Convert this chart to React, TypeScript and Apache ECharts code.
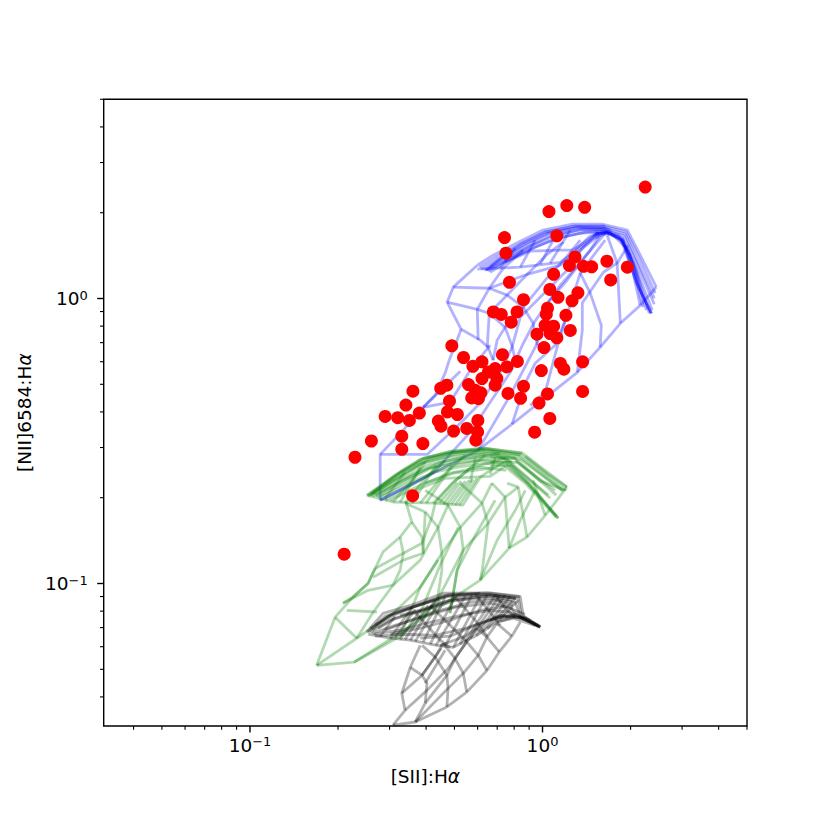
import React, { useEffect, useRef } from "react";
import * as echarts from "echarts";

// All values are log10 of the line ratios: x = [SII]:Ha, y = [NII]6584:Ha
const logSII = [
  .351,.022,.083,.144,-.130,.049,-.125,.111,.092,.140,.168,.220,.290,.233,.038,-.113,.025,.053,.121,.101,-.065,-.168,-.141,-.087,-.107,.017,.013,.080,.038,.009,.095,-.019,.026,.049,.005,
  -.310,-.270,-.238,-.207,-.137,-.086,-.122,-.162,-.185,-.207,-.156,-.162,-.253,-.230,-.211,-.242,-.219,-.065,-.118,-.075,.061,.073,-.004,.137,.137,.017,-.012,.025,-.027,
  -.443,-.348,-.327,-.467,-.318,-.421,-.538,-.495,-.455,-.325,-.291,-.356,-.347,-.304,-.259,-.221,-.222,-.228,-.481,-.585,-.409,-.481,-.641,-.444,-.678,
];
const logNII = [
  .391,.305,.326,.320,.214,.220,.159,.146,.116,.113,.111,.131,.110,.065,.085,.057,.032,.004,.020,-.008,-.004,-.047,-.056,-.047,-.083,-.034,-.055,-.059,-.097,-.094,-.112,-.125,-.123,-.138,-.172,
  -.166,-.207,-.238,-.222,-.197,-.221,-.240,-.246,-.258,-.281,-.281,-.304,-.302,-.322,-.331,-.349,-.351,-.308,-.333,-.350,-.228,-.248,-.253,-.222,-.326,-.335,-.367,-.421,-.469,
  -.325,-.315,-.304,-.374,-.360,-.402,-.414,-.418,-.428,-.398,-.407,-.430,-.448,-.465,-.456,-.428,-.468,-.497,-.483,-.500,-.509,-.529,-.557,-.692,-.897,
];

// Model grids, each line is a flat list of log10 x, log10 y pairs
const blueLines: number[][] = [
  [.389,.040,.334,.152,.290,.240,.204,.261,.102,.261,.002,.240,-.076,.201,-.169,.152,-.223,.117],
  [.385,.019,.327,.149,.286,.233,.208,.254,.108,.254,.009,.233,-.069,.194,-.162,.145,-.216,.110],
  [.382,.001,.320,.141,.283,.226,.208,.247,.115,.247,.019,.226,-.063,.184,-.155,.138,-.210,.103],
  [.382,-.020,.317,.134,.279,.219,.204,.243,.122,.240,.026,.219,-.056,.177,-.148,.131,-.199,.099],
  [.375,-.041,.314,.120,.273,.212,.204,.236,.129,.229,.037,.208,-.049,.170,-.141,.124,-.193,.099],
  [.372,-.052,.320,.057,.276,.201,.221,.233,.173,.219,.105,.170,.061,.170,-.042,.166,-.128,.127],
  [.372,-.052,.334,.029,.293,.170,.238,.226,.180,.229],
  [-.193,.099,-.145,.141,-.076,.191,.009,.233,.112,.254,.214,.254],
  [-.179,.110,-.128,.148,-.059,.191,.019,.229,.122,.250,.221,.247],
  [-.186,.096,-.118,.141,-.042,.184,.037,.219,.136,.243,.231,.243],
  [-.179,.092,-.104,.141,-.025,.180,.054,.212,.146,.233,.238,.236],
  [.112,.170,.163,.219,.214,.236,.259,.222,.300,.152,.344,-.030],
  [.173,.222,.218,.233,.266,.212,.310,.127,.355,-.041],
  [.183,.226,.224,.233,.273,.205,.320,.099,.365,-.052],
  [-.223,.103,-.076,.110,.061,.127,.105,.159,.173,.212,.221,.229,.269,.205,.324,.050,.372,-.052],
  [-.305,.040,-.182,.036,-.052,.085,.061,.117,.129,.170,.190,.219],
  [-.182,.036,-.121,.012,-.066,-.031,-.032,-.087,-.018,-.164],
  [-.326,-.013,-.223,-.038,-.182,-.052,-.128,-.101,-.104,-.167,-.093,-.217],
  [-.278,-.108,-.213,-.146,-.186,-.171,-.169,-.217],
  [-.319,-.217,-.333,-.262,-.367,-.339,-.408,-.382,-.476,-.462,-.555,-.547,-.555,-.708],
  [-.278,-.108,-.326,-.013,-.305,.040,-.223,.117],
  [-.278,-.108,-.319,-.217],
  [-.555,-.708,-.220,-.532,-.104,-.441,.119,-.259,.197,-.171,.266,-.087,.334,-.024,.389,.040],
  [-.555,-.547,-.394,-.547,-.281,-.438,-.213,-.367,-.145,-.262,-.104,-.171,-.076,-.066,.009,.022,.084,.099,.139,.180,.190,.233],
  [-.555,-.708,-.374,-.613,-.316,-.547,-.247,-.469,-.179,-.364,-.110,-.259,-.069,-.164,-.028,-.083,.061,.047,.129,.127,.214,.229],
  [-.220,-.532,-.110,-.339,-.018,-.157,.016,-.016,.084,.064,.163,.170,.197,.222],
  [-.104,-.441,-.083,-.375,-.066,-.311,-.025,-.227,.043,-.164,.078,-.076,.129,.089,.214,.205],
  [-.042,-.375,.009,-.329,.050,-.171,.078,-.076],
  [.119,-.259,.136,-.111,.136,-.016,.208,.092,.255,.124,.293,.187],
  [.197,-.171,.201,-.094,.163,.019,.129,.089],
  [.266,-.087,.255,.124,.221,.222],
  [.334,-.024,.310,.089,.273,.212],
  [-.220,-.146,-.223,-.038,-.182,.036,-.134,.106,-.066,.170],
  [-.189,-.171,-.182,-.052,-.121,.012,-.052,.085,.016,.155,.071,.198],
  [-.169,-.217,-.155,-.146,-.128,-.101,-.066,-.031,.009,.064,.078,.141,.129,.205],
  [-.408,-.382,-.281,-.255],
  [-.408,-.382,-.316,-.364,-.247,-.252,-.179,-.164],
  [-.145,.106,-.093,.177],
  [-.076,.110,-.025,.205],
  [-.008,.120,.047,.225],
  [.026,.124,.095,.240],
];

const greenLines: number[][] = [
  [.083,-.661,-.070,-.542,-.203,-.525,-.316,-.538,-.408,-.561,-.487,-.609,-.601,-.690],
  [.081,-.673,-.076,-.547,-.199,-.532,-.312,-.543,-.405,-.568,-.483,-.610,-.596,-.690],
  [.071,-.676,-.080,-.554,-.196,-.543,-.309,-.554,-.401,-.575,-.480,-.624,-.589,-.690],
  [.047,-.690,-.093,-.561,-.193,-.554,-.305,-.564,-.394,-.585,-.480,-.634,-.582,-.694],
  [.026,-.701,-.124,-.561,-.196,-.564,-.299,-.578,-.384,-.596,-.470,-.645,-.562,-.697],
  [.054,-.771,-.052,-.648,-.121,-.585,-.196,-.578,-.288,-.592,-.374,-.610,-.459,-.662,-.538,-.708],
  [.047,-.768,-.059,-.648,-.128,-.589],
  [-.589,-.687,-.504,-.620,-.418,-.564,-.316,-.536,-.197,-.525,-.070,-.543],
  [-.582,-.683,-.494,-.617,-.405,-.561,-.309,-.540,-.186,-.529,-.076,-.550],
  [-.596,-.694,-.497,-.631,-.412,-.578,-.299,-.547,-.179,-.536,-.090,-.561],
  [-.569,-.694,-.480,-.641,-.391,-.596,-.288,-.568,-.162,-.547,-.104,-.575],
  [-.124,-.575,-.052,-.645,.054,-.771],
  [-.110,-.582,-.042,-.652,.047,-.764],
  [-.093,-.568,-.008,-.641,.078,-.673],
  [-.059,-.554,.019,-.617,.084,-.662],
  [-.582,-.687,-.470,-.610,-.384,-.561,-.299,-.540,-.197,-.529],
  [-.572,-.690,-.452,-.624,-.350,-.575,-.247,-.550,-.145,-.543],
  [-.555,-.697,-.435,-.638,-.333,-.592,-.213,-.568,-.110,-.575],
  [-.521,-.708,-.418,-.655,-.316,-.613,-.213,-.592,-.124,-.603],
  [.067,-.673,-.076,-.564,-.179,-.554],
  [.043,-.673,-.086,-.575,-.179,-.575],
  [.020,-.690,-.104,-.585,-.179,-.589],
  [-.538,-.701,-.470,-.610],
  [-.487,-.715,-.418,-.592],
  [-.446,-.718,-.364,-.585],
  [-.398,-.718,-.309,-.585],
  [-.247,-.645,-.230,-.561],
  [-.179,-.617,-.162,-.557],
  [-.601,-.690,-.511,-.714,-.374,-.718,-.272,-.725,-.213,-.627,-.179,-.603,-.121,-.568],
  [-.367,-.718,-.305,-.645],
  [-.353,-.718,-.292,-.645],
  [-.340,-.722,-.278,-.641],
  [-.326,-.722,-.264,-.641],
  [-.312,-.722,-.251,-.638],
  [-.299,-.725,-.237,-.634],
  [-.285,-.725,-.223,-.631],
  [-.511,-.714,-.446,-.638,-.401,-.575],
  [-.470,-.718,-.391,-.620,-.333,-.568],
  [-.418,-.718,-.343,-.624,-.264,-.550],
  [-.374,-.718,-.305,-.645,-.196,-.550],
  [-.305,-.645,-.247,-.596,-.128,-.561],
  [-.435,-.673,-.333,-.631,-.179,-.624,-.128,-.589],
  [-.401,-.648,-.305,-.613,-.179,-.596],
  [-.467,-.714,-.447,-.784,-.487,-.837,-.545,-.889,-.572,-.947,-.596,-.999,-.647,-1.047,-.709,-1.118,-.772,-1.287],
  [-.772,-1.287,-.644,-1.276,-.418,-1.129,-.213,-.988,-.114,-.876,-.053,-.837,.009,-.761,.049,-.708,.083,-.661],
  [-.470,-.718,-.401,-.749,-.357,-.803,-.344,-.894,-.344,-.954,-.360,-1.059,-.418,-1.129],
  [-.401,-.673,-.323,-.725,-.281,-.803,-.271,-.883,-.292,-.954,-.316,-1.104],
  [-.281,-.648,-.207,-.718,-.186,-.789,-.206,-.954,-.213,-.988],
  [-.173,-.648,-.128,-.697,-.114,-.876],
  [-.121,-.648,-.083,-.662,-.053,-.837],
  [-.032,-.638,.009,-.761],
  [-.772,-1.287,-.635,-1.192,-.511,-1.105,-.418,-1.013,-.344,-.894,-.281,-.803,-.207,-.718,-.173,-.648],
  [-.644,-1.276,-.487,-1.185,-.360,-1.059,-.271,-.883,-.186,-.789,-.128,-.697,-.083,-.662],
  [-.709,-1.118,-.635,-1.192],
  [-.669,-1.094,-.566,-1.100],
  [-.682,-1.069,-.596,-1.024,-.511,-1.006,-.418,-.918,-.357,-.803,-.323,-.725],
  [-.572,-.947,-.476,-.894,-.412,-.859,-.378,-.767,-.367,-.718],
  [-.579,-.978,-.476,-.918,-.408,-.894,-.401,-.749],
  [-.487,-.837,-.476,-.894,-.487,-.954,-.511,-1.006],
  [-.447,-.784,-.412,-.837,-.408,-.894],
  [-.682,-1.069,-.647,-1.047,-.596,-.999,-.572,-.947],
  [-.635,-1.192,-.579,-1.101,-.511,-1.006],
  [-.487,-1.188,-.418,-1.013,-.357,-.918],
  [-.418,-1.104,-.350,-.936,-.288,-.803],
  [-.316,-1.104,-.292,-.954,-.230,-.831,-.162,-.708],
  [-.213,-.988,-.155,-.848,-.093,-.743,-.059,-.673],
  [-.114,-.876,-.076,-.778,-.025,-.673],
];

const blackLines: number[][] = [
  [-.601,-1.170,-.545,-1.105,-.452,-1.077,-.340,-1.034,-.190,-1.033,-.076,-1.047,-.066,-1.113,-.008,-1.153],
  [-.596,-1.171,-.538,-1.115,-.446,-1.084,-.333,-1.041,-.189,-1.038,-.083,-1.052,-.073,-1.112,-.008,-1.150],
  [-.589,-1.171,-.521,-1.129,-.418,-1.098,-.316,-1.059,-.179,-1.052,-.093,-1.066,-.076,-1.119,-.015,-1.150],
  [-.582,-1.175,-.504,-1.147,-.401,-1.115,-.299,-1.084,-.179,-1.069,-.110,-1.084,-.086,-1.112,-.025,-1.147],
  [-.576,-1.178,-.487,-1.164,-.384,-1.136,-.281,-1.112,-.179,-1.094,-.110,-1.101,-.042,-1.129],
  [-.596,-1.178,-.521,-1.192,-.452,-1.199,-.361,-1.217,-.305,-1.224,-.224,-1.182,-.156,-1.135,-.100,-1.122,-.008,-1.153],
  [-.572,-1.185,-.470,-1.178,-.367,-1.182,-.264,-1.157,-.162,-1.122,-.093,-1.112],
  [-.487,-1.112,-.384,-1.087,-.299,-1.059,-.179,-1.041,-.093,-1.052],
  [-.582,-1.163,-.528,-1.115,-.435,-1.080,-.322,-1.045,-.186,-1.040,-.090,-1.052],
  [-.562,-1.157,-.504,-1.122,-.401,-1.087,-.299,-1.052,-.179,-1.045,-.104,-1.059],
  [-.538,-1.164,-.452,-1.129,-.350,-1.094,-.247,-1.066,-.162,-1.059,-.100,-1.077],
  [-.521,-1.178,-.418,-1.157,-.316,-1.129,-.213,-1.094,-.128,-1.080,-.060,-1.108],
  [-.418,-1.192,-.316,-1.185,-.230,-1.147,-.145,-1.112,-.060,-1.122],
  [-.350,-1.217,-.264,-1.185,-.197,-1.136,-.128,-1.108],
  [-.145,-1.133,-.093,-1.115,-.060,-1.122,-.008,-1.153],
  [-.128,-1.119,-.076,-1.119,-.015,-1.147],
  [-.572,-1.145,-.504,-1.101,-.418,-1.073,-.316,-1.038,-.179,-1.033,-.076,-1.045],
  [-.589,-1.157,-.511,-1.112,-.435,-1.080,-.333,-1.045,-.213,-1.034],
  [-.162,-1.119,-.093,-1.108,-.008,-1.153],
  [-.179,-1.129,-.104,-1.112,-.036,-1.136,-.008,-1.153],
  [-.521,-1.192,-.446,-1.084],
  [-.555,-1.185,-.504,-1.115],
  [-.487,-1.196,-.418,-1.094],
  [-.452,-1.199,-.367,-1.059],
  [-.408,-1.206,-.333,-1.048],
  [-.364,-1.217,-.264,-1.045],
  [-.305,-1.224,-.213,-1.045],
  [-.264,-1.203,-.162,-1.041],
  [-.227,-1.182,-.128,-1.041],
  [-.189,-1.157,-.093,-1.052],
  [-.155,-1.136,-.083,-1.059],
  [-.504,-1.189,-.435,-1.091],
  [-.470,-1.196,-.391,-1.077],
  [-.435,-1.203,-.350,-1.059],
  [-.384,-1.213,-.299,-1.048],
  [-.333,-1.220,-.241,-1.041],
  [-.282,-1.213,-.189,-1.041],
  [-.247,-1.192,-.145,-1.041],
  [-.206,-1.168,-.110,-1.045],
  [-.435,-1.101,-.350,-1.199,-.316,-1.224],
  [-.384,-1.077,-.299,-1.164,-.261,-1.203],
  [-.299,-1.048,-.230,-1.129,-.189,-1.185],
  [-.230,-1.038,-.179,-1.101,-.145,-1.147],
  [-.162,-1.038,-.128,-1.087,-.093,-1.119],
  [-.511,-1.497,-.435,-1.486,-.327,-1.433,-.259,-1.381,-.190,-1.305,-.148,-1.240,-.105,-1.185,-.076,-1.135],
  [-.511,-1.497,-.470,-1.445,-.481,-1.385,-.452,-1.294,-.418,-1.217],
  [-.435,-1.486,-.401,-1.420,-.395,-1.350,-.412,-1.322,-.452,-1.294],
  [-.327,-1.433,-.323,-1.368,-.327,-1.322,-.367,-1.258,-.412,-1.217],
  [-.259,-1.381,-.271,-1.315,-.299,-1.263,-.340,-1.210],
  [-.190,-1.305,-.220,-1.252,-.259,-1.205],
  [-.148,-1.240,-.190,-1.188,-.224,-1.157],
  [-.105,-1.185,-.156,-1.140],
  [-.470,-1.445,-.395,-1.375,-.323,-1.298,-.259,-1.203],
  [-.435,-1.486,-.323,-1.368,-.271,-1.315,-.220,-1.252,-.190,-1.188,-.156,-1.140],
  [-.401,-1.420,-.327,-1.322,-.299,-1.263,-.259,-1.205,-.224,-1.157],
  [-.481,-1.385,-.412,-1.322,-.367,-1.258,-.340,-1.210],
  [-.412,-1.322,-.346,-1.227],
  [-.401,-1.350,-.333,-1.234],
];

const axisMin = 0.0316228;
const axisMax = 5;
const majorTicks = [0.1, 1];
const minorTicks = [0.04, 0.05, 0.06, 0.07, 0.08, 0.09, 0.2, 0.3, 0.4, 0.5, 0.6, 0.7, 0.8, 0.9, 2, 3, 4, 5];

const FONT = "DejaVu Sans";

const toPairs = (flat: number[]) => {
  const out: number[][] = [];
  for (let i = 0; i < flat.length; i += 2) out.push([10 ** flat[i], 10 ** flat[i + 1]]);
  return out;
};

const meshSeries = (lines: number[][], color: string) =>
  lines.map((flat) => ({
    type: "line",
    data: toPairs(flat),
    showSymbol: false,
    symbol: "none",
    silent: true,
    smooth: false,
    z: 2,
    lineStyle: { color, width: 2.8, join: "round", cap: "butt" },
  }));

const tickSeries = (values: number[], len: number, width: number, onX: boolean) => ({
  type: "custom",
  silent: true,
  z: 5,
  clip: false,
  data: values.map((v) => (onX ? [v, axisMin] : [axisMin, v])),
  encode: { x: 0, y: 1 },
  renderItem: (_: unknown, api: any) => {
    const p = api.coord([api.value(0), api.value(1)]);
    return {
      type: "line",
      shape: onX
        ? { x1: p[0], y1: p[1], x2: p[0], y2: p[1] + len }
        : { x1: p[0], y1: p[1], x2: p[0] - len, y2: p[1] },
      style: { stroke: "#000", lineWidth: width },
    };
  },
});

const tickLabel = (value: number) => {
  const e = Math.log10(value);
  if (Math.abs(e - Math.round(e)) > 1e-6) return "";
  const n = Math.round(e);
  return `{b|10}{s|${n < 0 ? "\u2212" + -n : n}}`;
};

const labelRich = {
  b: { fontFamily: FONT, fontSize: 18.5, color: "#000" },
  s: { fontFamily: FONT, fontSize: 13, color: "#000", verticalAlign: "bottom", padding: [0, 0, 7, 0] },
};

const nameRich = {
  t: { fontFamily: FONT, fontSize: 18.5, color: "#000" },
  i: { fontFamily: FONT, fontStyle: "italic", fontSize: 18.5, color: "#000" },
};

const logAxis = (name: string, nameGap: number, margin: number, extra: object) => ({
  type: "log",
  logBase: 10,
  min: axisMin,
  max: axisMax,
  name,
  nameLocation: "middle",
  nameGap,
  nameTextStyle: { rich: nameRich },
  axisLine: { show: false },
  axisTick: { show: false },
  minorTick: { show: false },
  splitLine: { show: false },
  axisLabel: {
    formatter: tickLabel,
    showMinLabel: false,
    showMaxLabel: false,
    hideOverlap: false,
    margin,
    rich: labelRich,
  },
  ...extra,
});

export default function App() {
  const ref = useRef<HTMLDivElement>(null);
  useEffect(() => {
    document.body.style.margin = "0";
    const chart = echarts.init(ref.current!, undefined, { renderer: "svg" });
    chart.setOption({
      animation: false,
      backgroundColor: "#fff",
      textStyle: { fontFamily: FONT },
      grid: {
        left: 103.7,
        right: 83,
        top: 99.3,
        bottom: 104,
        show: true,
        borderColor: "#000",
        borderWidth: 1.4,
        backgroundColor: "transparent",
      },
      xAxis: logAxis("{t|[SII]:H}{i|\u03b1}", 41, 9, {}),
      yAxis: logAxis("{t|[NII]6584:H}{i|\u03b1}", 69, 16, { nameRotate: 90 }),
      series: [
        ...meshSeries(blueLines, "rgba(0,0,255,0.3)"),
        ...meshSeries(greenLines, "rgba(0,128,0,0.3)"),
        ...meshSeries(blackLines, "rgba(0,0,0,0.3)"),
        {
          type: "scatter",
          data: logSII.map((x, i) => [10 ** x, 10 ** logNII[i]]),
          symbol: "circle",
          symbolSize: 13,
          silent: true,
          z: 4,
          itemStyle: { color: "#ff0000", opacity: 1 },
        },
        tickSeries(majorTicks, 6.5, 1.4, true),
        tickSeries(minorTicks, 3.7, 1.1, true),
        tickSeries(majorTicks, 6.5, 1.4, false),
        tickSeries(minorTicks, 3.7, 1.1, false),
      ],
    });
    return () => chart.dispose();
  }, []);
  return <div ref={ref} style={{ width: 830, height: 830 }} />;
}
